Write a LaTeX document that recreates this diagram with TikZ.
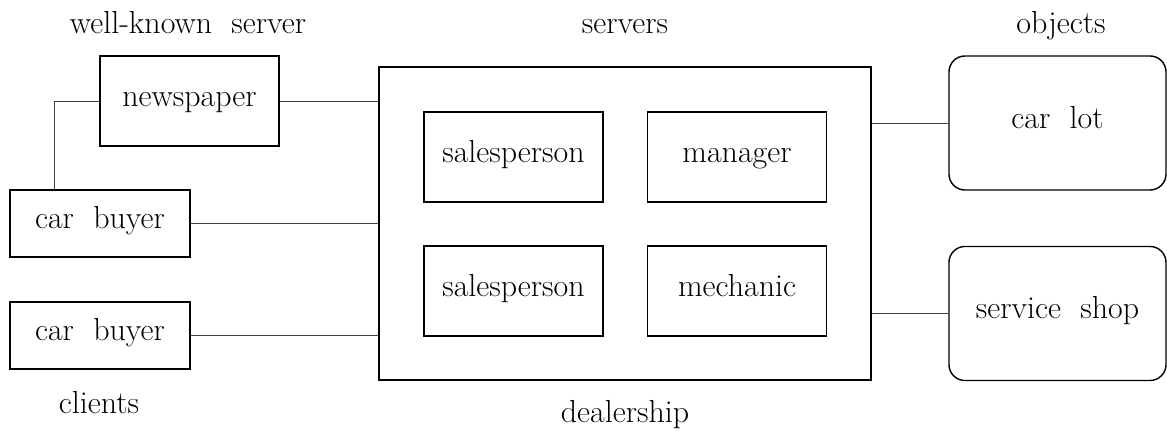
\documentclass[tikz,border=0pt]{standalone}
\usetikzlibrary{calc}

\tikzset{
  unit/.style={draw, line width=1pt, inner sep=0pt, text height=0.72em, text depth=0em, minimum width=4.475cm, minimum height=2.25cm},
  client/.style={unit, minimum width=4.5cm, minimum height=1.675cm},
  object/.style={unit, rounded corners=0.4cm, minimum width=5.425cm, minimum height=3.35cm},
  caption/.style={anchor=base, inner sep=0pt},
  link/.style={line width=0.6pt, black!75}
}

\begin{document}
\begin{tikzpicture}[x=0.025cm, y=-0.025cm, font=\fontsize{22.7}{27}\selectfont]
      \useasboundingbox (0, 0) rectangle (1167, 431);
      % group captions
      \node [caption] (wk) at (188, 34) {well-known\ \ server};
      \node [caption] (srv) at (625, 34) {servers};
      \node [caption] (obj) at (1061, 34) {objects};
      \node [caption] (cl) at (99, 414) {clients};
      \node [caption] (dl) at (625, 423) {dealership};
      % clients and newspaper
      \node [unit] (paper) at (189.5, 101) {newspaper};
      \node [client] (buyer1) at (100, 223.5) {car\ \ buyer};
      \node [client] (buyer2) at (100, 335.5) {car\ \ buyer};
      % dealership
      \node [unit, minimum width=12.3cm, minimum height=7.825cm] (dealer) at (625, 223.5) {};
      \node [unit] (sales1) at (513.5, 157) {salesperson};
      \node [unit] (mgr) at (737, 157) {manager};
      \node [unit] (sales2) at (513.5, 291) {salesperson};
      \node [unit] (mech) at (737, 291) {mechanic};
      % objects
      \node [object] (lot) at (1057.5, 123) {car\ \ lot};
      \node [object] (shop) at (1057.5, 313.5) {service\ \ shop};
      % connections
      \coordinate (bend) at ($(buyer1.north west)!0.25!(buyer1.north east)$);
      \draw [link] (paper.west) -| (bend);
      \draw [link] (paper.east) -- (paper.east -| dealer.west);
      \draw [link] (buyer1.east) -- (buyer1.east -| dealer.west);
      \draw [link] (buyer2.east) -- (buyer2.east -| dealer.west);
      \draw [link] (lot.west) -- (lot.west -| dealer.east);
      \draw [link] (shop.west) -- (shop.west -| dealer.east);
    \end{tikzpicture}
\end{document}
